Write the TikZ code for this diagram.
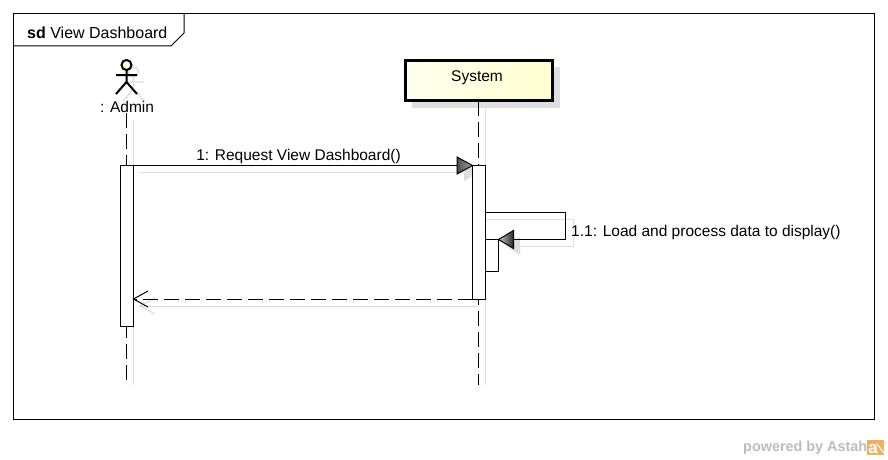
\documentclass[tikz,border=0pt]{standalone}
\usepackage{fontspec}
\setmainfont{Liberation Sans}
\usetikzlibrary{calc}
\definecolor{softgrey}{HTML}{DEDEDE}
\definecolor{astahgrey}{HTML}{BDBDBD}
\definecolor{astahorange}{HTML}{F0B060}
\definecolor{noteyellow}{HTML}{FFFFD0}
\tikzset{
  x=1pt,y=-1pt,
  lbl/.style={font=\fontsize{15.5}{17}\selectfont,inner sep=0pt,text=black},
  shadowline/.style={draw=softgrey,line width=1pt},
  lifeline/.style={draw=black,line width=1pt,dash pattern=on 15pt off 6pt},
  actbar/.style={draw=black,fill=white,line width=1pt,outer sep=0pt,minimum width=13pt,inner sep=0pt,anchor=north west},
  msg/.style={draw=black,line width=1pt},
}
\begin{document}
\begin{tikzpicture}
\useasboundingbox (0,0) rectangle (888,460);
\fill[white] (0,0) rectangle (888,460);
% frame
\coordinate (fnw) at (13.5,13.5);
\coordinate (fse) at (874,419);
\draw[line width=1pt] (fnw) rectangle (fse);
\draw[line width=1pt] (13.5,46) -- (171,46) -- (184,33) -- (184,13.5);
\node[lbl,font=\fontsize{16}{17}\selectfont,anchor=west] (frameTitle) at (27,32.5) {\textbf{sd} View Dashboard};
% lifeline shadows
\coordinate (as0) at (133,120); \coordinate (as1) at (133,385);
\coordinate (ss0) at (485,107); \coordinate (ss1) at (485,385);
\draw[shadowline] (as0) -- (as1);
\draw[shadowline] (ss0) -- (ss1);
% actor shadow
\begin{scope}[shift={(7,7)},draw=softgrey,line width=1.4pt]
\draw (126.5,65) circle (5);
\draw (126.5,70) -- (126.5,82) (116,75) -- (137,75) (116,94) -- (126.5,82) -- (137,94);
\end{scope}
% actor
\draw[line width=2pt,fill=noteyellow] (126.5,65) circle (5);
\draw[line width=2pt] (126.5,70) -- (126.5,82) (116,75) -- (137,75) (116,94) -- (126.5,82) -- (137,94);
\node[lbl] (admin) at (127,106.5) {: Admin};
% system head
\fill[softgrey] (412,67) rectangle (560,108);
\node[draw=black,line width=2.6pt,outer sep=0pt,left color=noteyellow!35!white,right color=noteyellow,minimum width=147pt,minimum height=40pt,inner sep=0pt,anchor=north west] (system) at (405.5,60.5) {};
\node[lbl] (systemLabel) at (477,77.5) {System};
% lifelines
\coordinate (aend) at (126.5,380);
\coordinate (astart) at (126.5,113);
\coordinate (send) at (478,385);
\draw[lifeline] (astart) -- (aend);
\draw[lifeline] (system.south -| send) -- (send);
% message shadows
\fill[softgrey] (464,163) -- (479,172) -- (464,181) -- cycle;
\draw[shadowline] (139,172) -- (470,172);
\draw[shadowline] (485,219) -- (573,219) -- (573,246) -- (513,246);
\fill[softgrey] (506,246) -- (520,237) -- (520,255) -- cycle;
\draw[shadowline] (139,306) -- (478,306);
\draw[softgrey,line width=1.2pt] (155,298) -- (140,306) -- (155,314);
% activations
\node[actbar,minimum height=160.5pt] (aBar) at (120.5,165.5) {};
\node[actbar,minimum height=133.5pt] (sBar) at (472.5,165.5) {};
\node[actbar,minimum height=32pt] (nBar) at (485.5,239.5) {};
% message 1
\draw[msg] (aBar.north east) -- (sBar.north west);
\shade[left color=black!70,right color=black!35,draw=black,line width=1pt]
  (sBar.north west) -- ++(-15.5,-8.5) -- ++(0,17) -- cycle;
\node[lbl] (m1) at (298.5,156.5) {1: Request View Dashboard()};
% self message
\coordinate (selfStart) at (485.5,212.5);
\coordinate (selfC1) at (565.5,212.5);
\coordinate (selfC2) at (565.5,239.5);
\draw[msg] (selfStart) -- (selfC1) -- (selfC2) -- (nBar.north east);
\shade[left color=black!20,right color=black!85,draw=black,line width=1pt]
  (nBar.north east) -- ++(15,-9) -- ++(0,18) -- cycle;
\node[lbl,anchor=west] (m11) at (571,232.5) {1.1: Load and process data to display()};
% return
\draw[line width=1pt,dash pattern=on 15pt off 6pt] (sBar.south west) -- (aBar.east |- sBar.south);
\draw[line width=1pt] (148,291) -- (aBar.east |- sBar.south) -- (148,307);
% watermark
\node[font=\fontsize{14.4}{16}\selectfont\bfseries,text=astahgrey,anchor=west,inner sep=0pt] (powered) at (743,448) {powered by Astah};
\fill[astahorange] (867,440) rectangle (884,455);
\node[font=\fontsize{17}{17}\selectfont\bfseries,text=white,inner sep=0pt] (logo) at (873,449.5) {a};
\draw[white,line width=1pt] (877,444) -- (884,453);
\end{tikzpicture}
\end{document}
